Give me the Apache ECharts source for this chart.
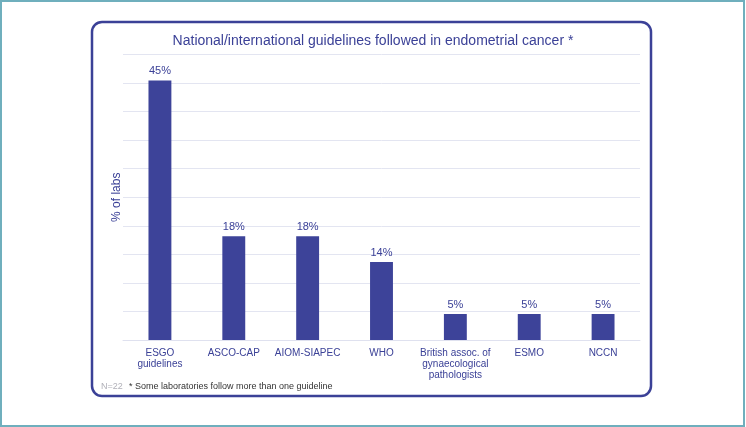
<!DOCTYPE html>
<html>
<head>
<meta charset="utf-8">
<script src="https://cdn.jsdelivr.net/npm/echarts@6/dist/echarts.min.js"></script>
<style>
html,body{margin:0;padding:0;background:#fff;}
#main{width:746px;height:427px;}
</style>
</head>
<body>
<div id="main"></div>
<script>
const categories = ['ESGO\nguidelines', 'ASCO-CAP', 'AIOM-SIAPEC', 'WHO', 'British assoc. of\ngynaecological\npathologists', 'ESMO', 'NCCN'];
const values = [45.45, 18.18, 18.18, 13.64, 4.55, 4.55, 4.55];
const titleText = 'National/international guidelines followed in endometrial cancer *';
const yName = '% of labs';
const nText = 'N=22';
const noteText = '* Some laboratories follow more than one guideline';

const blue = '#3b4197';
const barBlue = '#3d4399';
const font = '"Liberation Sans", Arial, sans-serif';

const chart = echarts.init(document.getElementById('main'), null, {renderer: 'canvas'});
chart.setOption({
  backgroundColor: '#ffffff',
  animation: false,
  title: {
    text: titleText,
    left: 'center',
    top: 29,
    textStyle: {color: blue, fontSize: 14, fontWeight: 'normal', fontFamily: font}
  },
  grid: {left: 123, right: 106, top: 54.5, bottom: 87},
  xAxis: {
    type: 'category',
    data: categories,
    axisLine: {lineStyle: {color: '#dfe1ef', width: 1}},
    axisTick: {show: false},
    axisLabel: {color: blue, fontSize: 10, fontFamily: font, margin: 8, lineHeight: 11, interval: 0}
  },
  yAxis: {
    type: 'value',
    min: 0, max: 50, interval: 5,
    name: yName,
    nameLocation: 'middle',
    nameRotate: 90,
    nameGap: 0,
    nameTextStyle: {color: blue, fontSize: 12, fontFamily: font},
    axisLabel: {show: false},
    axisLine: {show: false},
    axisTick: {show: false},
    splitLine: {lineStyle: {color: '#e3e5f1', width: 1}}
  },
  series: [{
    type: 'bar',
    data: values,
    barWidth: '31%',
    itemStyle: {color: barBlue},
    label: {
      show: true, position: 'top', distance: 4,
      color: blue, fontSize: 11, fontFamily: font,
      formatter: p => Math.round(p.value) + '%'
    }
  }],
  graphic: [
    {type: 'rect', silent: true, z: -1, shape: {x: 1, y: 1, width: 743, height: 425},
     style: {fill: null, stroke: '#6fafbd', lineWidth: 2}},
    {type: 'rect', silent: true, z: -1, shape: {x: 92, y: 22, width: 559, height: 374, r: 10},
     style: {fill: null, stroke: blue, lineWidth: 2.5}},
    {type: 'text', silent: true, left: 101, top: 382,
     style: {text: nText, fill: '#b0b0b8', fontSize: 9, fontFamily: font}},
    {type: 'text', silent: true, left: 129, top: 382,
     style: {text: noteText, fill: '#333333', fontSize: 9, fontFamily: font}}
  ]
});
</script>
</body>
</html>
